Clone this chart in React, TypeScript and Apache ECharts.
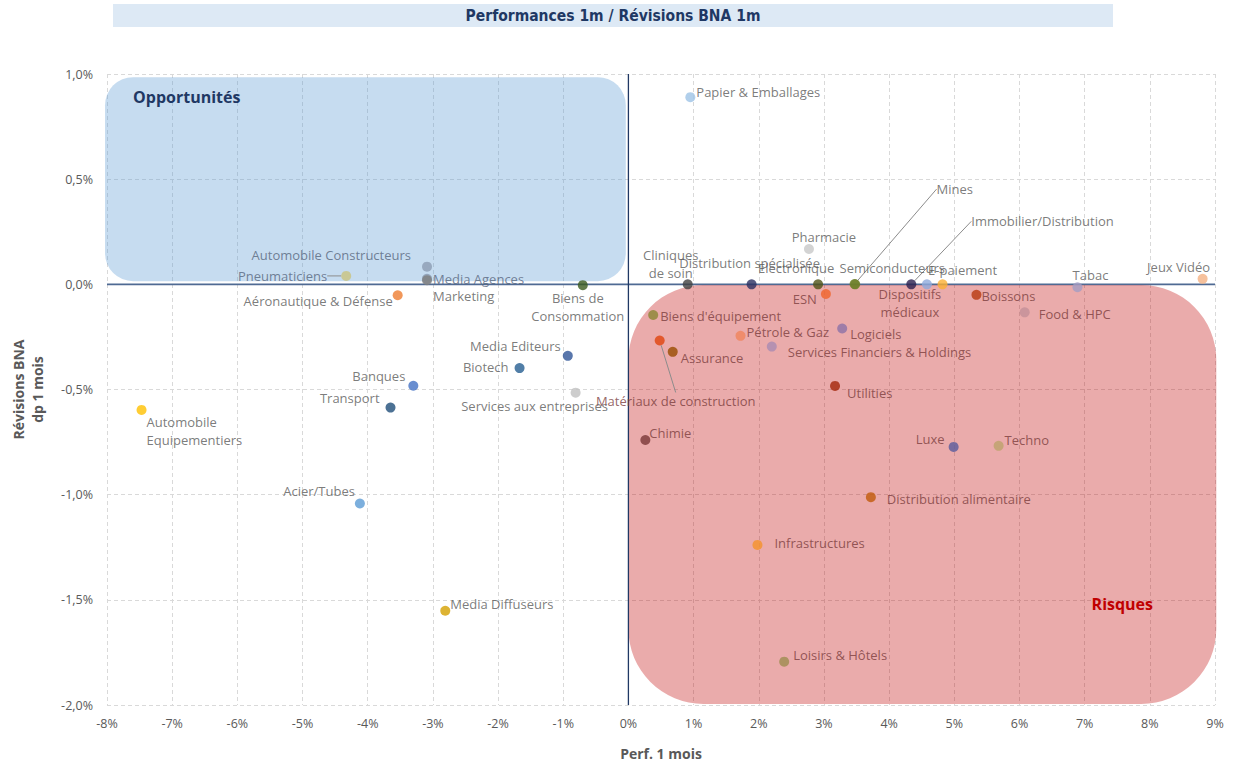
import React, { useEffect, useRef } from "react";
import * as echarts from "echarts";

// ---- Data ----
const sectors = [
  "Papier & Emballages", "Automobile Constructeurs", "Media Agences", "Marketing", "Pneumaticiens",
  "Aéronautique & Défense", "Biens de\nConsommation", "Cliniques\nde soin", "Distribution spécialisée", "Pharmacie",
  "Electronique", "ESN", "Semiconducteurs", "Mines", "Immobilier/Distribution",
  "Dispositifs\nmédicaux", "E-paiement", "Boissons", "Tabac", "Jeux Vidéo",
  "Food & HPC", "Biens d'équipement", "Pétrole & Gaz", "Logiciels", "Services Financiers & Holdings",
  "Assurance", "Matériaux de construction", "Media Editeurs", "Biotech", "Services aux entreprises",
  "Banques", "Transport", "Automobile\nEquipementiers", "Utilities", "Chimie",
  "Luxe", "Techno", "Acier/Tubes", "Distribution alimentaire", "Infrastructures",
  "Media Diffuseurs", "Loisirs & Hôtels",
];
const perf = [
  0.95, -3.09, -3.09, -3.09, -4.33,
  -3.54, -0.70, 0.91, 1.89, 2.77,
  2.91, 3.03, 3.48, 3.47, 4.34,
  4.58, 4.82, 5.34, 6.89, 8.81,
  6.08, 0.38, 1.72, 3.28, 2.20,
  0.68, 0.48, -0.93, -1.67, -0.81,
  -3.30, -3.65, -7.47, 3.17, 0.26,
  4.99, 5.68, -4.12, 3.72, 1.98,
  -2.81, 2.39,
];
const revisions = [
  0.89, 0.084, 0.026, 0.02, 0.04,
  -0.052, -0.004, 0.0, 0.0, 0.168,
  0.0, -0.046, 0.0, 0.001, 0.0,
  0.0, 0.0, -0.05, -0.014, 0.026,
  -0.133, -0.146, -0.245, -0.21, -0.296,
  -0.321, -0.267, -0.34, -0.398, -0.515,
  -0.482, -0.586, -0.597, -0.483, -0.74,
  -0.773, -0.768, -1.042, -1.012, -1.239,
  -1.552, -1.794,
];
const xTickMin = -8, xTickMax = 9, xTickStep = 1;
const yTickMin = -2, yTickMax = 1, yTickStep = 0.5;

// ---- Styles ----
const pointColors = [
  "#9dc3e6", "#8c9cb3", "#8696ad", "#7f7f7f", "#c9c37e",
  "#ed7d31", "#3a5a1e", "#404040", "#2b2f62", "#c8c8c8",
  "#4f5316", "#f0642a", "#6f7f2a", "#6f7f2a", "#2a1f4f",
  "#8faadc", "#fbb033", "#b83a10", "#a29dc4", "#f4b183",
  "#c39098", "#8b8633", "#f0845c", "#8c72a8", "#a98bb3",
  "#994c00", "#e0440e", "#2f5597", "#255e91", "#c0c0c0",
  "#4472c4", "#1f4e79", "#ffc000", "#a3260a", "#7a3838",
  "#595b9c", "#bda26b", "#5b9bd5", "#c05a0a", "#f5922a",
  "#d4a000", "#9e8c50",
];
// [position, dx, dy, tone]  tone: r = inside red zone, b = inside blue zone
const labelPlacement: Record<string, [string, number, number, string]> = {
  "Papier & Emballages": ["right", -1, -5, ""],
  "Automobile Constructeurs": ["left", -9, -12, "b"],
  "Media Agences": ["right", -1, 0, "b"],
  "Marketing": ["right", -1, 16, ""],
  "Pneumaticiens": ["left", -12, 0, "b"],
  "Aéronautique & Défense": ["left", 2, 6, ""],
  "Biens de\nConsommation": ["bottom", -5, -3, ""],
  "Cliniques\nde soin": ["top", -17, 5, ""],
  "Distribution spécialisée": ["top", -2, -5, ""],
  "Pharmacie": ["top", 15, 4, ""],
  "Electronique": ["top", -22, 0, ""],
  "ESN": ["left", -2, 5, "r"],
  "Semiconducteurs": ["top", 37, 0, ""],
  "Mines": ["right", 75, -95, ""],
  "Immobilier/Distribution": ["right", 53, -63, ""],
  "Dispositifs\nmédicaux": ["bottom", -17, -6, "r"],
  "E-paiement": ["top", 20, 2, ""],
  "Boissons": ["right", -2, 1, "r"],
  "Tabac": ["top", 13, 4, ""],
  "Jeux Vidéo": ["top", -24, 4, ""],
  "Food & HPC": ["right", 7, 2, "r"],
  "Biens d'équipement": ["right", 0, 1, "r"],
  "Pétrole & Gaz": ["right", -1, -4, "r"],
  "Logiciels": ["right", 1, 5, "r"],
  "Services Financiers & Holdings": ["right", 9, 5, "r"],
  "Assurance": ["right", 1, 6, "r"],
  "Matériaux de construction": ["bottom", 16, 45, "r"],
  "Media Editeurs": ["left", 0, -10, ""],
  "Biotech": ["left", -4, -1, ""],
  "Services aux entreprises": ["bottom", -41, -3, ""],
  "Banques": ["left", -1, -10, ""],
  "Transport": ["left", -4, -10, ""],
  "Automobile\nEquipementiers": ["right", -2, 21, ""],
  "Utilities": ["right", 5, 7, "r"],
  "Chimie": ["right", -3, -7, "r"],
  "Luxe": ["left", -2, -8, "r"],
  "Techno": ["right", -1, -6, "r"],
  "Acier/Tubes": ["left", 2, -13, ""],
  "Distribution alimentaire": ["right", 9, 2, "r"],
  "Infrastructures": ["right", 10, -2, "r"],
  "Media Diffuseurs": ["right", -2, -7, ""],
  "Loisirs & Hôtels": ["right", 2, -7, "r"],
};
// labels drawn with a leader line
const leaderLabels = ["Pneumaticiens", "Mines", "Immobilier/Distribution", "Matériaux de construction"];
const toneColor: Record<string, string> = { "": "#595959", r: "#7a3c3c", b: "#56657c" };

// zones (data units)
const blueZone = { x0: -8.03, x1: -0.04, y0: 0.015, y1: 0.985 };
const redZone = { x0: 0, x1: 9.02, y0: -1.995, y1: -0.003 };

const FONT = "'Open Sans', 'Noto Sans', sans-serif";

export default function App() {
  const ref = useRef<HTMLDivElement>(null);
  useEffect(() => {
    const chart = echarts.init(ref.current!, null, { renderer: "svg" });
    const data = sectors.map((name, i) => {
      const pl = labelPlacement[name] || ["right", 0, 0, ""];
      const item: any = {
        name,
        value: [perf[i], revisions[i]],
        itemStyle: { color: pointColors[i] },
        label: {
          position: pl[0],
          color: toneColor[pl[3]],
        },
      };
      if (leaderLabels.indexOf(name) >= 0) {
        item.labelLine = { show: true, lineStyle: { color: "#8c8c8c", width: 1 } };
      }
      return item;
    });
    chart.setOption({
      animation: false,
      grid: { left: 107, right: 21, top: 74, bottom: 62, containLabel: false },
      xAxis: {
        type: "value",
        min: xTickMin,
        max: xTickMax,
        interval: xTickStep,
        axisLine: { show: false },
        axisTick: { show: false },
        axisLabel: {
          formatter: (v: number) => `${v}%`,
          color: "#595959",
          fontFamily: FONT,
          fontSize: 12.5,
          margin: 12,
        },
        splitLine: { show: true, lineStyle: { color: "#d9d9d9", type: [4, 3], width: 1 } },
        name: "Perf. 1 mois",
        nameLocation: "middle",
        nameGap: 41,
        nameTextStyle: { color: "#595959", fontWeight: "bold", fontFamily: FONT, fontSize: 14 },
      },
      yAxis: {
        type: "value",
        min: yTickMin,
        max: yTickMax,
        interval: yTickStep,
        axisLine: { show: false },
        axisTick: { show: false },
        axisLabel: {
          formatter: (v: number) => `${v.toFixed(1).replace(".", ",")}%`,
          color: "#595959",
          fontFamily: FONT,
          fontSize: 12.5,
          margin: 14,
        },
        splitLine: { show: true, lineStyle: { color: "#d9d9d9", type: [4, 3], width: 1 } },
        name: "Révisions BNA\ndp 1 mois",
        nameLocation: "middle",
        nameRotate: 90,
        nameGap: 60,
        nameTextStyle: { color: "#595959", fontWeight: "bold", fontFamily: FONT, fontSize: 14, lineHeight: 19 },
      },
      series: [
        {
          type: "scatter",
          symbolSize: 10,
          data,
          label: {
            show: true,
            formatter: (p: any) => p.name,
            fontFamily: FONT,
            fontSize: 13,
            lineHeight: 18,
            distance: 2,
          },
          labelLine: { show: false },
          labelLayout: (params: any) => {
            const nm = sectors[params.dataIndex];
            const pl = labelPlacement[nm];
            if (pl) return { dx: pl[1], dy: pl[2] };
            return {};
          },
          emphasis: { disabled: true },
        },
      ],
    });

    const px = (x: number, y: number) => chart.convertToPixel({ gridIndex: 0 }, [x, y]) as number[];
    const b0 = px(blueZone.x0, blueZone.y1);
    const b1 = px(blueZone.x1, blueZone.y0);
    const r0 = px(redZone.x0, redZone.y1);
    const r1 = px(redZone.x1, redZone.y0);
    const zl = px(xTickMin, 0);
    const zr = px(xTickMax, 0);
    const vt = px(0, yTickMax);
    const vb = px(0, yTickMin);

    chart.setOption({
      graphic: [
        {
          type: "rect",
          silent: true,
          z: 1,
          z2: 0,
          shape: { x: 113, y: 4, width: 1000, height: 23 },
          style: { fill: "#dde9f5" },
        },
        {
          type: "text",
          silent: true,
          z: 10,
          x: 613,
          y: 16,
          style: {
            text: "Performances 1m / Révisions BNA 1m",
            fill: "#1f3864",
            font: "bold 15.5px 'Liberation Sans Narrow', 'DejaVu Sans Condensed', sans-serif",
            align: "center",
            verticalAlign: "middle",
          },
        },
        {
          type: "line",
          silent: true,
          z: 1,
          z2: 1,
          shape: { x1: zl[0], y1: zl[1], x2: zr[0], y2: zr[1] },
          style: { stroke: "#4f6a93", lineWidth: 1.8 },
        },
        {
          type: "rect",
          silent: true,
          z: 1,
          z2: 5,
          shape: { x: b0[0], y: b0[1], width: b1[0] - b0[0], height: b1[1] - b0[1], r: 28 },
          style: { fill: "rgba(91,155,213,0.35)" },
        },
        {
          type: "rect",
          silent: true,
          z: 1,
          z2: 5,
          shape: { x: r0[0], y: r0[1], width: r1[0] - r0[0], height: r1[1] - r0[1], r: 75 },
          style: { fill: "rgba(192,0,0,0.33)" },
        },
        {
          type: "line",
          silent: true,
          z: 1,
          z2: 6,
          shape: { x1: vt[0], y1: vt[1], x2: vb[0], y2: vb[1] },
          style: { stroke: "#203864", lineWidth: 1.3 },
        },
        {
          type: "text",
          silent: true,
          z: 10,
          x: b0[0] + 28,
          y: b0[1] + 20,
          style: {
            text: "Opportunités",
            fill: "#1f3864",
            font: `bold 16px ${FONT}`,
            align: "left",
            verticalAlign: "middle",
          },
        },
        {
          type: "text",
          silent: true,
          z: 10,
          x: r1[0] - 94,
          y: r1[1] - 100,
          style: {
            text: "Risques",
            fill: "#c00000",
            font: `bold 16px ${FONT}`,
            align: "center",
            verticalAlign: "middle",
          },
        },
      ],
    });
    return () => chart.dispose();
  }, []);
  return (
    <div
      ref={ref}
      style={{ position: "fixed", left: 0, top: 0, width: 1236, height: 767, background: "#ffffff" }}
    />
  );
}
